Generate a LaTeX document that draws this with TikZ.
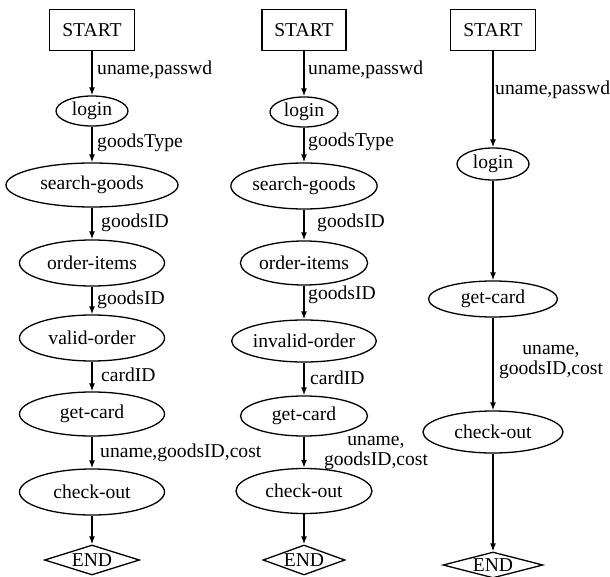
\documentclass[tikz,border=0pt]{standalone}
\usepackage{fontspec}
\setmainfont{Liberation Serif}
\usetikzlibrary{shapes.geometric,arrows.meta}
\begin{document}
\begin{tikzpicture}[x=1pt,y=-1pt,
  every node/.style={font=\fontsize{19.6}{20}\selectfont, inner sep=0pt},
  startbox/.style={draw, rectangle, line width=1.3pt, minimum width=85, minimum height=41},
  proc/.style={draw, ellipse, line width=1.3pt},
  endbox/.style={draw, diamond, line width=1.3pt, aspect=3.2},
  lbl/.style={anchor=west},
  lbl2/.style={align=center},
  flow/.style={-{Latex[length=8pt,width=6pt]}, line width=1.3pt}
]
\useasboundingbox (0,0) rectangle (610,577);

% ---------- column 1 ----------
\node[startbox] (s1) at (92,30) {START};
\node[proc, minimum width=72, minimum height=30] (lg1) at (92,111) {login};
\node[proc, minimum width=172, minimum height=44] (sg1) at (92,185) {search-goods};
\node[proc, minimum width=145, minimum height=46] (oi1) at (92,263) {order-items};
\node[proc, minimum width=145, minimum height=46] (vo1) at (92,338) {valid-order};
\node[proc, minimum width=145, minimum height=44] (gc1) at (92,414) {get-card};
\node[proc, minimum width=145, minimum height=46] (co1) at (92,492) {check-out};
\node[endbox, minimum width=95, minimum height=30] (e1) at (92,560) {END};

\draw[flow] (s1) -- (lg1);
\draw[flow] (lg1) -- (sg1);
\draw[flow] (sg1) -- (oi1);
\draw[flow] (oi1) -- (vo1);
\draw[flow] (vo1) -- (gc1);
\draw[flow] (gc1) -- (co1);
\draw[flow] (co1) -- (e1);

\node[lbl] (a1) at (97,70) {uname,passwd};
\node[lbl] (a2) at (97,143) {goodsType};
\node[lbl] (a3) at (101,223) {goodsID};
\node[lbl] (a4) at (97,300) {goodsID};
\node[lbl] (a5) at (101,375) {cardID};
\node[lbl] (a6) at (100,453) {uname,goodsID,cost};

% ---------- column 2 ----------
\node[startbox, minimum width=84] (s2) at (304,30) {START};
\node[proc, minimum width=68, minimum height=30] (lg2) at (304,112) {login};
\node[proc, minimum width=143, minimum height=46] (sg2) at (304,186) {search-goods};
\node[proc, minimum width=121, minimum height=44] (oi2) at (304,263) {order-items};
\node[proc, minimum width=142, minimum height=42] (io2) at (304,341) {invalid-order};
\node[proc, minimum width=127, minimum height=40] (gc2) at (304,416) {get-card};
\node[proc, minimum width=136, minimum height=45] (co2) at (304,491) {check-out};
\node[endbox, minimum width=82, minimum height=30] (e2) at (304,560) {END};

\draw[flow] (s2) -- (lg2);
\draw[flow] (lg2) -- (sg2);
\draw[flow] (sg2) -- (oi2);
\draw[flow] (oi2) -- (io2);
\draw[flow] (io2) -- (gc2);
\draw[flow] (gc2) -- (co2);
\draw[flow] (co2) -- (e2);

\node[lbl] (b1) at (308,70) {uname,passwd};
\node[lbl] (b2) at (308,142) {goodsType};
\node[lbl] (b3) at (317,223) {goodsID};
\node[lbl] (b4) at (308,295) {goodsID};
\node[lbl] (b5) at (310,378) {cardID};
\node[lbl2] (b6) at (376,453) {uname,\\goodsID,cost};

% ---------- column 3 ----------
\node[startbox] (s3) at (493,30) {START};
\node[proc, minimum width=72, minimum height=32] (lg3) at (493,164) {login};
\node[proc, minimum width=129, minimum height=36] (gc3) at (493,299) {get-card};
\node[proc, minimum width=140, minimum height=42] (co3) at (493,432) {check-out};
\node[endbox, minimum width=100, minimum height=26] (e3) at (493,565) {END};

\draw[flow] (s3) -- (lg3);
\draw[flow] (lg3) -- (gc3);
\draw[flow] (gc3) -- (co3);
\draw[flow] (co3) -- (e3);

\node[lbl] (c1) at (495,90) {uname,passwd};
\node[lbl2] (c2) at (551,362) {uname,\\goodsID,cost};
\end{tikzpicture}
\end{document}
